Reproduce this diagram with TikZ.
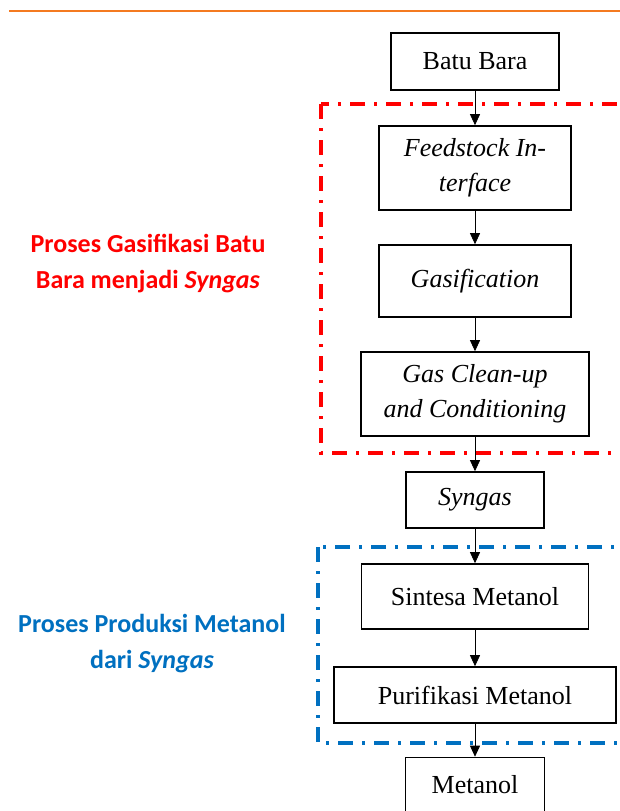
\documentclass[tikz,border=0pt]{standalone}
\usepackage{fontspec}
\setmainfont{Liberation Serif}
\newfontfamily\calfont{Carlito}
\usepackage{xcolor}
\usetikzlibrary{arrows.meta,positioning}
\definecolor{Ink}{HTML}{000000}
\definecolor{Accent}{HTML}{F47A20}
\definecolor{GasRed}{HTML}{FF0000}
\definecolor{MetBlue}{HTML}{0070C0}
\tikzset{
  stage/.style={draw=Ink, line width=1.6pt, fill=white, inner sep=0pt, align=center, font=\fontsize{26}{35}\selectfont},
  flow/.style={Ink, line width=0.8pt, -{Triangle[length=11pt,width=10pt]}},
  zoneframe/.style={line width=3.5pt, dash pattern=on 15pt off 9pt on 3pt off 9pt},
  zonelabel/.style={align=center, font=\calfont\bfseries\fontsize{26}{36}\selectfont}
}

\begin{document}
\begin{tikzpicture}[x=1pt,y=-1pt]
        \useasboundingbox (0,0) rectangle (620,811);
        \draw[Accent, line width=2.7pt] (9,11) -- (640,11);
        \draw[zoneframe, GasRed] (321,104) rectangle (660,453);
        \draw[zoneframe, MetBlue] (318,547) rectangle (660,743);
        \node[stage, minimum width=168pt, minimum height=57pt] (batu) at (475,61.5) {Batu Bara};
        \node[stage, minimum width=192pt, minimum height=84pt] (feed) at (475,168) {\textit{Feedstock In-}\\\textit{terface}};
        \node[stage, minimum width=192pt, minimum height=72pt] (gasif) at (475,281) {\textit{Gasification}};
        \node[stage, minimum width=228pt, minimum height=84pt] (clean) at (475,394) {\textit{Gas Clean-up}\\\textit{and Conditioning}};
        \node[stage, minimum width=138pt, minimum height=56pt] (syngas) at (475,500) {\textit{Syngas}};
        \node[stage, minimum width=227pt, minimum height=65pt] (sintesa) at (475,596.5) {Sintesa Metanol};
        \node[stage, minimum width=282pt, minimum height=56pt] (purif) at (475,695) {Purifikasi Metanol};
        \node[stage, minimum width=139pt, minimum height=55pt] (metanol) at (475,785) {Metanol};
        \node[zonelabel, text=GasRed] (gaslabel) at (148,264) {Proses Gasifikasi Batu\\Bara menjadi \textit{Syngas}};
        \node[zonelabel, text=MetBlue] (metlabel) at (152,644) {Proses Produksi Metanol\\dari \textit{Syngas}};
        \draw[flow] (batu) -- (feed);
        \draw[flow] (feed) -- (gasif);
        \draw[flow] (gasif) -- (clean);
        \draw[flow] (clean) -- (syngas);
        \draw[flow] (syngas) -- (sintesa);
        \draw[flow] (sintesa) -- (purif);
        \draw[flow] (purif) -- (metanol);
      \end{tikzpicture}
\end{document}
